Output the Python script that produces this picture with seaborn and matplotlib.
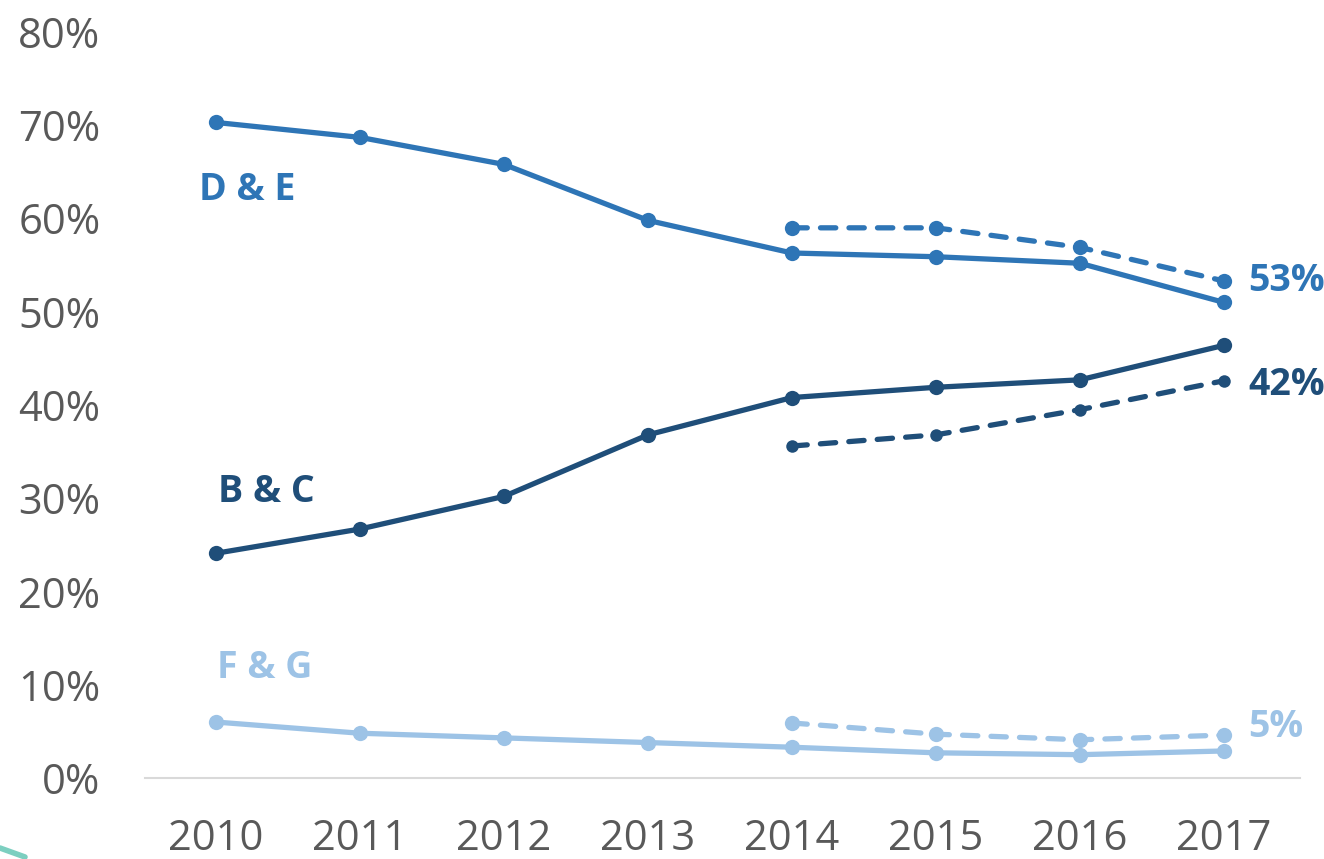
import pandas as pd
import seaborn as sns
import matplotlib.pyplot as plt
from matplotlib.lines import Line2D

years = [2010, 2011, 2012, 2013, 2014, 2015, 2016, 2017]
years_new = [2014, 2015, 2016, 2017]

# solid series (old method), shares in %
de_solid = [70.3, 68.7, 65.8, 59.8, 56.3, 55.9, 55.2, 51.0]
bc_solid = [24.1, 26.7, 30.2, 36.8, 40.8, 41.9, 42.7, 46.4]
fg_solid = [6.0, 4.8, 4.3, 3.8, 3.3, 2.7, 2.5, 2.9]

# dashed series (new method)
de_dash = [59.0, 59.0, 56.9, 53.3]
bc_dash = [35.6, 36.8, 39.5, 42.6]
fg_dash = [5.9, 4.7, 4.1, 4.6]

groups = ['D & E', 'B & C', 'F & G']
end_labels = ['53%', '42%', '5%']
colors = {'D & E': '#2E75B6', 'B & C': '#1F4E79', 'F & G': '#9DC3E6'}

rows = []
for g, vals in zip(groups, [de_solid, bc_solid, fg_solid]):
    for y, v in zip(years, vals):
        rows.append({'year': y, 'share': v / 100, 'group': g, 'kind': 'old'})
for g, vals in zip(groups, [de_dash, bc_dash, fg_dash]):
    for y, v in zip(years_new, vals):
        rows.append({'year': y, 'share': v / 100, 'group': g, 'kind': 'new'})
df = pd.DataFrame(rows)

sns.set_theme(style='white')
plt.rcParams['font.family'] = ['Open Sans', 'DejaVu Sans']

fig = plt.figure(figsize=(13.24, 8.59), dpi=100)
ax = fig.add_axes([145 / 1324, 1 - 778 / 859, 1155 / 1324, (778 - 32) / 859])

for g in groups:
    sub = df[(df.group == g) & (df.kind == 'old')]
    sns.lineplot(data=sub, x='year', y='share', color=colors[g], ax=ax,
                 linewidth=3.8, marker='o', markersize=11,
                 markeredgewidth=0, legend=False)
    sub = df[(df.group == g) & (df.kind == 'new')]
    ms = 9 if g == 'B & C' else 11
    sns.lineplot(data=sub, x='year', y='share', color=colors[g], ax=ax,
                 linewidth=3.8, marker='o', markersize=ms,
                 markeredgewidth=0, legend=False,
                 dashes=False, linestyle=(0, (2.9, 2.5)))

for ln in ax.get_lines():
    ln.set_dash_capstyle('round')
    ln.set_solid_capstyle('round')

# series labels
ax.text(2010.22, 0.631, 'D & E', color=colors['D & E'], fontsize=27,
        fontweight='bold', ha='center', va='center')
ax.text(2010.35, 0.307, 'B & C', color=colors['B & C'], fontsize=27,
        fontweight='bold', ha='center', va='center')
ax.text(2010.34, 0.118, 'F & G', color=colors['F & G'], fontsize=27,
        fontweight='bold', ha='center', va='center')

# end labels next to the dashed series
for g, vals, lab, dy in zip(groups, [de_dash, bc_dash, fg_dash], end_labels,
                            [0.0, -0.5, 0.9]):
    ax.text(2017.167, (vals[-1] + dy) / 100, lab, color=colors[g],
            fontsize=27, fontweight='bold', ha='left', va='center')

ax.set_xlim(2009.507, 2017.528)
ax.set_ylim(0, 0.8)
ax.set_xticks(years)
ax.set_xticklabels([str(y) for y in years])
ax.set_yticks([i / 10 for i in range(9)])
ax.set_yticklabels([f'{i * 10}%' for i in range(9)])
ax.tick_params(axis='both', length=0, labelsize=30, labelcolor='#595959')
ax.tick_params(axis='y', pad=32)
ax.tick_params(axis='x', pad=29)
ax.set_xlabel('')
ax.set_ylabel('')
for s in ['top', 'right', 'left']:
    ax.spines[s].set_visible(False)
ax.spines['bottom'].set_color('#D9D9D9')
ax.spines['bottom'].set_linewidth(1.5)
ax.grid(False)

# small teal stroke in the lower-left corner
fig.add_artist(Line2D([0, 25 / 1324], [1 - 848 / 859, 1 - 857 / 859],
                      transform=fig.transFigure, color='#7CCFC0', linewidth=4))

fig.savefig('out.png', dpi=100)
